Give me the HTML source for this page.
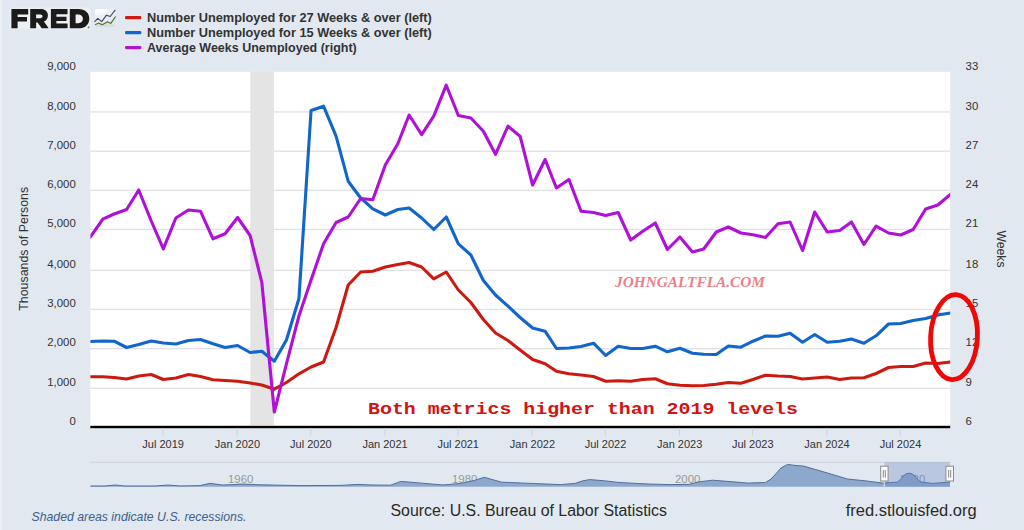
<!DOCTYPE html>
<html><head><meta charset="utf-8"><title>FRED</title>
<style>
html,body{margin:0;padding:0;}
body{width:1024px;height:530px;overflow:hidden;background:#e1e8f0;font-family:"Liberation Sans",sans-serif;}
svg{display:block;position:absolute;left:0;top:0;}
.ax{font-family:"Liberation Sans",sans-serif;font-size:11.4px;fill:#333;}
.lg{font-family:"Liberation Sans",sans-serif;font-size:12.2px;font-weight:bold;fill:#333;}
.nv{font-family:"Liberation Sans",sans-serif;font-size:11.4px;fill:#999;}
</style></head><body>
<svg width="1024" height="530" viewBox="0 0 1024 530">
<defs>
<linearGradient id="ig" x1="0" y1="0" x2="0.6" y2="1"><stop offset="0" stop-color="#fff" stop-opacity="1"/><stop offset="0.45" stop-color="#fff" stop-opacity="0.75"/><stop offset="1" stop-color="#fff" stop-opacity="0"/></linearGradient>
<linearGradient id="ig2" x1="0" y1="0" x2="0.5" y2="1"><stop offset="0" stop-color="#fff" stop-opacity="0.95"/><stop offset="0.6" stop-color="#fff" stop-opacity="0.7"/><stop offset="1" stop-color="#fff" stop-opacity="0"/></linearGradient>
</defs>
<rect x="0" y="0" width="1024" height="530" fill="#e1e8f0"/>
<rect x="0" y="0" width="1.5" height="530" fill="#eef2f6"/>
<!-- plot -->
<clipPath id="cp"><rect x="90.4" y="72" width="859.8" height="356"/></clipPath>
<rect x="90.3" y="71.8" width="859.9" height="355.4" fill="#ffffff"/>
<rect x="90" y="111.3" width="860" height="1.3" fill="#e1e1e4"/><rect x="90" y="150.6" width="860" height="1.3" fill="#e1e1e4"/><rect x="90" y="189.6" width="860" height="1.3" fill="#e1e1e4"/><rect x="90" y="228.8" width="860" height="1.3" fill="#e1e1e4"/><rect x="90" y="269.7" width="860" height="1.3" fill="#e1e1e4"/><rect x="90" y="308.8" width="860" height="1.3" fill="#e1e1e4"/><rect x="90" y="348.0" width="860" height="1.3" fill="#e1e1e4"/><rect x="90" y="387.7" width="860" height="1.3" fill="#e1e1e4"/>
<rect x="250.3" y="71.8" width="23.6" height="353.4" fill="#e4e4e4"/>
<g clip-path="url(#cp)"><polyline points="90.30,376.8 102.81,376.8 114.11,377.5 126.62,379.0 138.73,376.0 151.24,374.5 163.35,379.5 175.86,378.0 188.37,374.5 200.47,376.5 212.98,379.8 225.09,380.5 237.60,381.2 250.11,383.0 261.82,385.0 274.33,389.2 286.43,382.5 298.94,373.8 311.05,367.0 323.56,362.0 336.07,327.5 348.18,285.0 360.69,272.0 372.80,271.2 385.31,267.0 397.82,264.5 409.12,262.5 421.63,267.0 433.74,278.8 446.25,272.0 458.35,290.0 470.86,302.5 483.37,319.5 495.48,333.0 507.99,340.5 520.10,350.0 532.61,359.5 545.12,363.8 556.42,371.2 568.93,373.8 581.04,375.0 593.55,376.5 605.65,381.2 618.16,380.8 630.68,381.2 642.78,379.5 655.29,378.8 667.40,383.8 679.91,385.2 692.42,385.8 703.72,385.5 716.23,384.2 728.34,382.5 740.85,383.2 752.96,379.5 765.47,375.2 777.98,376.0 790.08,376.5 802.59,379.0 814.70,378.0 827.21,377.0 839.72,379.5 851.43,378.0 863.94,377.8 876.04,373.5 888.55,367.5 900.66,366.5 913.17,366.5 925.68,363.0 937.79,363.5 950.30,362.0" fill="none" stroke="#cc1a10" stroke-width="3.1" stroke-linejoin="round" stroke-linecap="round"/>
<polyline points="90.30,341.5 102.81,341.0 114.11,341.2 126.62,347.5 138.73,344.5 151.24,341.0 163.35,343.0 175.86,344.0 188.37,340.5 200.47,339.5 212.98,343.8 225.09,347.5 237.60,345.5 250.11,352.5 261.82,351.2 274.33,361.2 286.43,340.0 298.94,298.5 311.05,110.5 323.56,106.2 336.07,136.2 348.18,181.2 360.69,198.0 372.80,208.8 385.31,215.0 397.82,209.5 409.12,208.0 421.63,218.0 433.74,229.5 446.25,217.0 458.35,243.8 470.86,255.0 483.37,280.5 495.48,295.0 507.99,306.2 520.10,317.5 532.61,328.0 545.12,331.2 556.42,348.5 568.93,348.0 581.04,346.5 593.55,343.2 605.65,355.5 618.16,346.2 630.68,348.5 642.78,348.5 655.29,346.2 667.40,351.8 679.91,348.2 692.42,353.2 703.72,354.2 716.23,354.5 728.34,346.0 740.85,347.2 752.96,341.2 765.47,336.0 777.98,336.2 790.08,333.2 802.59,342.2 814.70,334.5 827.21,342.2 839.72,341.2 851.43,339.0 863.94,343.2 876.04,335.8 888.55,324.0 900.66,323.5 913.17,320.5 925.68,318.5 937.79,315.0 950.30,313.0" fill="none" stroke="#1166cc" stroke-width="3.1" stroke-linejoin="round" stroke-linecap="round"/>
<polyline points="90.30,237.0 102.81,219.2 114.11,214.0 126.62,209.5 138.73,190.0 151.24,221.0 163.35,248.8 175.86,218.0 188.37,210.0 200.47,211.2 212.98,238.8 225.09,233.8 237.60,217.5 250.11,235.5 261.82,282.5 274.33,412.0 286.43,363.8 298.94,316.0 311.05,280.0 323.56,243.8 336.07,222.5 348.18,217.0 360.69,198.5 372.80,199.8 385.31,165.0 397.82,143.8 409.12,115.0 421.63,134.6 433.74,116.2 446.25,85.2 458.35,115.5 470.86,118.0 483.37,131.2 495.48,154.3 507.99,126.2 520.10,136.2 532.61,185.0 545.12,159.5 556.42,188.0 568.93,179.5 581.04,211.2 593.55,212.5 605.65,215.5 618.16,212.5 630.68,240.0 642.78,231.2 655.29,223.0 667.40,249.5 679.91,237.0 692.42,252.0 703.72,249.0 716.23,232.0 728.34,227.0 740.85,233.0 752.96,234.8 765.47,237.5 777.98,223.8 790.08,222.0 802.59,250.5 814.70,212.0 827.21,232.0 839.72,230.5 851.43,222.0 863.94,244.5 876.04,226.2 888.55,233.0 900.66,235.0 913.17,229.5 925.68,209.0 937.79,205.0 950.30,194.5" fill="none" stroke="#b010d8" stroke-width="3.1" stroke-linejoin="round" stroke-linecap="round"/></g>
<rect x="90.3" y="425.8" width="859.9" height="2.4" fill="#000"/>
<text x="75.8" y="70.0" text-anchor="end" class="ax">9,000</text><text x="75.8" y="109.5" text-anchor="end" class="ax">8,000</text><text x="75.8" y="148.7" text-anchor="end" class="ax">7,000</text><text x="75.8" y="187.9" text-anchor="end" class="ax">6,000</text><text x="75.8" y="227.1" text-anchor="end" class="ax">5,000</text><text x="75.8" y="267.6" text-anchor="end" class="ax">4,000</text><text x="75.8" y="307.1" text-anchor="end" class="ax">3,000</text><text x="75.8" y="346.4" text-anchor="end" class="ax">2,000</text><text x="75.8" y="385.6" text-anchor="end" class="ax">1,000</text><text x="75.8" y="425.0" text-anchor="end" class="ax">0</text><text x="965.6" y="70.0" class="ax">33</text><text x="965.6" y="109.5" class="ax">30</text><text x="965.6" y="148.7" class="ax">27</text><text x="965.6" y="187.9" class="ax">24</text><text x="965.6" y="227.1" class="ax">21</text><text x="965.6" y="267.6" class="ax">18</text><text x="965.6" y="307.1" class="ax">15</text><text x="965.6" y="346.4" class="ax">12</text><text x="965.6" y="385.6" class="ax">9</text><text x="965.6" y="425.0" class="ax">6</text><text x="163.1" y="448" text-anchor="middle" class="ax" style="font-size:11px">Jul 2019</text><rect x="162.4" y="428" width="1" height="8" fill="#cdd4dc"/><text x="237.4" y="448" text-anchor="middle" class="ax" style="font-size:11px">Jan 2020</text><rect x="236.7" y="428" width="1" height="8" fill="#cdd4dc"/><text x="310.9" y="448" text-anchor="middle" class="ax" style="font-size:11px">Jul 2020</text><rect x="310.2" y="428" width="1" height="8" fill="#cdd4dc"/><text x="385.1" y="448" text-anchor="middle" class="ax" style="font-size:11px">Jan 2021</text><rect x="384.4" y="428" width="1" height="8" fill="#cdd4dc"/><text x="458.2" y="448" text-anchor="middle" class="ax" style="font-size:11px">Jul 2021</text><rect x="457.5" y="428" width="1" height="8" fill="#cdd4dc"/><text x="532.4" y="448" text-anchor="middle" class="ax" style="font-size:11px">Jan 2022</text><rect x="531.7" y="428" width="1" height="8" fill="#cdd4dc"/><text x="605.5" y="448" text-anchor="middle" class="ax" style="font-size:11px">Jul 2022</text><rect x="604.8" y="428" width="1" height="8" fill="#cdd4dc"/><text x="679.7" y="448" text-anchor="middle" class="ax" style="font-size:11px">Jan 2023</text><rect x="679.0" y="428" width="1" height="8" fill="#cdd4dc"/><text x="752.8" y="448" text-anchor="middle" class="ax" style="font-size:11px">Jul 2023</text><rect x="752.1" y="428" width="1" height="8" fill="#cdd4dc"/><text x="827.0" y="448" text-anchor="middle" class="ax" style="font-size:11px">Jan 2024</text><rect x="826.3" y="428" width="1" height="8" fill="#cdd4dc"/><text x="900.5" y="448" text-anchor="middle" class="ax" style="font-size:11px">Jul 2024</text><rect x="899.8" y="428" width="1" height="8" fill="#cdd4dc"/>
<text transform="translate(27.8,248.8) rotate(-90)" text-anchor="middle" class="ax" style="font-size:12.4px">Thousands of Persons</text>
<text transform="translate(996.6,249) rotate(90)" text-anchor="middle" class="ax" style="font-size:12.2px">Weeks</text>
<!-- legend -->
<rect x="125" y="16" width="16.4" height="3.3" rx="1.4" fill="#cc1a10"/>
<rect x="125" y="31" width="16.4" height="3.3" rx="1.4" fill="#1166cc"/>
<rect x="125" y="45.9" width="16.4" height="3.3" rx="1.4" fill="#b010d8"/>
<text x="147" y="22.3" class="lg" textLength="284.8" lengthAdjust="spacingAndGlyphs">Number Unemployed for 27 Weeks &amp; over (left)</text>
<text x="147" y="37.3" class="lg" textLength="284.8" lengthAdjust="spacingAndGlyphs">Number Unemployed for 15 Weeks &amp; over (left)</text>
<text x="147" y="52.1" class="lg" textLength="209.8" lengthAdjust="spacingAndGlyphs">Average Weeks Unemployed (right)</text>
<!-- logo -->
<filter id="hl" x="-10%" y="-30%" width="120%" height="160%"><feGaussianBlur stdDeviation="0.9"/></filter>
<g fill="#ffffff" stroke="#ffffff" stroke-width="1.6" opacity="0.42" filter="url(#hl)"><rect x="11.4" y="9" width="78" height="19.3"/></g>
<g fill="#1b1b1b">
<path d="M11.4 9H28.2V14.4H17.6V17H27V21.5H17.6V28.3H11.4Z"/>
<path d="M30.2 9H40.6C45.2 9 47.9 11.5 47.9 15.5C47.9 18.5 46.4 20.6 43.9 21.6L48.7 28.3H41.7L37.6 22.4H36.1V28.3H30.2ZM36.1 14.5V18.2H40.2C41.7 18.2 42.5 17.5 42.5 16.35C42.5 15.2 41.7 14.5 40.2 14.5Z"/>
<path d="M50.9 9H67.5V14.3H56.4V16.8H66.5V20.9H56.4V23.5H67.6V28.3H50.9Z"/>
<path d="M69.8 9H78.4C85.1 9 89.3 12.8 89.3 18.65C89.3 24.5 85.1 28.3 78.4 28.3H69.8ZM75.6 14.5V23.2H78.3C81.1 23.2 82.9 21.5 82.9 18.85C82.9 16.2 81.1 14.5 78.3 14.5Z"/>
</g>
<circle cx="88.6" cy="27.2" r="0.95" fill="#4a4a4a" opacity="0.75"/>
<rect x="94.6" y="8.9" width="21" height="17.6" rx="2.5" fill="url(#ig)" opacity="0.45"/><rect x="94.9" y="9.1" width="12.5" height="6.4" rx="1.8" fill="url(#ig2)"/>
<rect x="95.5" y="24.6" width="19" height="2.2" rx="1" fill="#c9ced6" opacity="0.55"/>
<polygon points="95.1,24.8 98.7,23.1 102.3,24.7 107.1,21.9 110.8,23.3 115.6,16.5 115.6,19.5 110.8,25.6 95.1,25.8" fill="#d6e6c8" opacity="0.7"/>
<polyline points="95.1,24.8 98.7,23.1 102.3,24.7 107.1,21.9 110.8,23.3 115.6,16.5" fill="none" stroke="#55703f" stroke-width="1.15" stroke-linejoin="round"/>
<polyline points="94.5,21.9 97.8,18.4 101.7,21.6 106.5,15.2 110.2,16.5 115.3,9.9" fill="none" stroke="#3b4b62" stroke-width="1.15" stroke-linejoin="round"/>
<!-- navigator -->
<rect x="90" y="461.8" width="860" height="0.9" fill="#cdd2d8"/>
<text x="228" y="483" class="nv">1960</text>
<text x="452" y="483" class="nv">1980</text>
<text x="675" y="483" class="nv">2000</text>
<text x="900" y="483" class="nv">2020</text>
<polygon points="90.5,486.8 90.5,486 105,486 115,485 125,486 155,486 168,485 180,486 200,485.6 210,483.3 222,485 235,484.6 241,484 260,484.8 300,485.6 340,485.4 358,484.4 372,485 390.5,485.2 400.8,481.4 414,482.5 443,485 460.8,483.4 474,480.5 484.3,477.3 492,479.5 501.8,482.2 531,483.4 560.4,484.6 575,483.4 583,480.8 589.7,479.6 604.4,480.8 619,482.5 648.3,484 670,484.6 689.3,484.3 698,482 712.7,480.2 730,481.6 747.9,483.1 765.5,482.5 771,479 775.7,474 781,468 787.5,464.4 795,465.4 803.6,466.1 824,472 847.5,479 865,480.8 882.7,483.1 897.3,482.2 900.5,479.5 903.2,476 906,473.8 909,473.2 912,473.8 915,476 918,480 920.8,482 932.5,483.4 948.6,482.2 950,482.2 950,486.8" fill="#8aa5cb" fill-opacity="0.96"/>
<polyline points="90.5,486 105,486 115,485 125,486 155,486 168,485 180,486 200,485.6 210,483.3 222,485 235,484.6 241,484 260,484.8 300,485.6 340,485.4 358,484.4 372,485 390.5,485.2 400.8,481.4 414,482.5 443,485 460.8,483.4 474,480.5 484.3,477.3 492,479.5 501.8,482.2 531,483.4 560.4,484.6 575,483.4 583,480.8 589.7,479.6 604.4,480.8 619,482.5 648.3,484 670,484.6 689.3,484.3 698,482 712.7,480.2 730,481.6 747.9,483.1 765.5,482.5 771,479 775.7,474 781,468 787.5,464.4 795,465.4 803.6,466.1 824,472 847.5,479 865,480.8 882.7,483.1 897.3,482.2 900.5,479.5 903.2,476 906,473.8 909,473.2 912,473.8 915,476 918,480 920.8,482 932.5,483.4 948.6,482.2 950,482.2" fill="none" stroke="#4f6f9c" stroke-width="1"/>
<rect x="884.4" y="462.2" width="65.4" height="24.6" fill="#6685c2" fill-opacity="0.33"/><rect x="883.8" y="481" width="0.9" height="5.8" fill="#e8edf4"/>
<rect x="880.7" y="466.2" width="7.4" height="14.8" fill="#fafafa" stroke="#8c8c8c" stroke-width="1"/>
<rect x="882.8" y="470" width="1" height="7.6" fill="#8a8a8a"/><rect x="884.8" y="470" width="1" height="7.6" fill="#8a8a8a"/>
<rect x="945.9" y="466.2" width="7.6" height="14.8" fill="#fafafa" stroke="#8c8c8c" stroke-width="1"/>
<rect x="948.2" y="470" width="1" height="7.6" fill="#8a8a8a"/><rect x="950.2" y="470" width="1" height="7.6" fill="#8a8a8a"/>
<!-- annotations -->
<text x="615" y="287" style="font-family:'Liberation Serif',serif;font-style:italic;font-weight:bold;font-size:15.5px;fill:#ee7f87" textLength="150" lengthAdjust="spacingAndGlyphs">JOHNGALTFLA.COM</text>
<text x="368" y="414.2" style="font-family:'Liberation Mono',monospace;font-weight:bold;font-size:16px;fill:#d41212" textLength="430" lengthAdjust="spacingAndGlyphs">Both metrics higher than 2019 levels</text>
<ellipse cx="954" cy="337.1" rx="23.4" ry="42.6" fill="none" stroke="#f00808" stroke-width="4.8" transform="rotate(3 954 337.1)"/>
<!-- footer -->
<rect x="385" y="493" width="289" height="37" fill="#ffffff" fill-opacity="0.05"/>
<text x="31.5" y="520.6" style="font-family:'Liberation Sans',sans-serif;font-style:italic;font-size:13px;fill:#3e5f8a" textLength="215" lengthAdjust="spacingAndGlyphs">Shaded areas indicate U.S. recessions.</text>
<text x="390.5" y="516" style="font-family:'Liberation Sans',sans-serif;font-size:16px;fill:#2a2a2a" textLength="276.5" lengthAdjust="spacingAndGlyphs">Source: U.S. Bureau of Labor Statistics</text>
<text x="845.7" y="516" style="font-family:'Liberation Sans',sans-serif;font-size:16px;fill:#2a2a2a" textLength="131" lengthAdjust="spacingAndGlyphs">fred.stlouisfed.org</text>
</svg>
</body></html>
